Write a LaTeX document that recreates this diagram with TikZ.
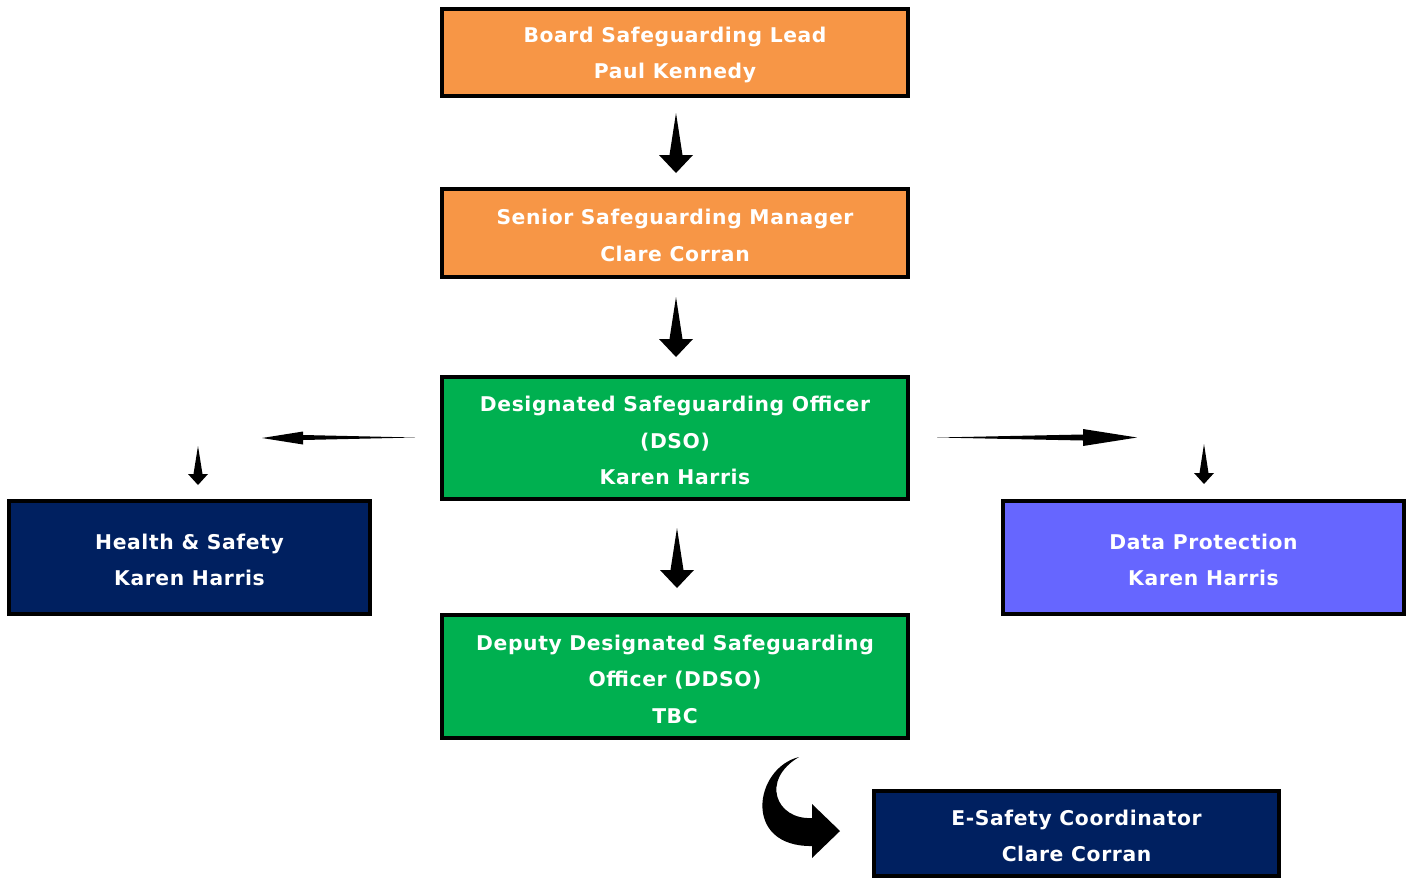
\documentclass[tikz,border=0pt]{standalone}
\usepackage{fontspec}
\setmainfont{DejaVu Sans}[LetterSpace=3]
\begin{document}
\begin{tikzpicture}[x=1pt,y=-1pt,
  box/.style={draw=black,line width=4pt,inner sep=0pt},
  lbl/.style={text=white,align=center,inner sep=0pt,
    font=\fontsize{20.3}{36.5}\selectfont\bfseries},
  arr/.style={fill=black,draw=none}]
\definecolor{orangeC}{HTML}{F79646}
\definecolor{greenC}{HTML}{00B050}
\definecolor{navyC}{HTML}{002060}
\definecolor{violetC}{HTML}{6666FF}
\useasboundingbox (0,0) rectangle (1413,879);
\newcommand{\dnarr}[6]{% x, top, headbase, tip, shaft half, head half
  \fill (#1,#2) -- (#1+#5,#3) -- (#1+#6,#3) -- (#1,#4) -- (#1-#6,#3) -- (#1-#5,#3) -- cycle;}
\node[box,fill=orangeC,minimum width=466pt,minimum height=87pt] (board) at (675,52.5) {};
\node[lbl] (boardt) at ([yshift=-2.5pt]board.center) {Board Safeguarding Lead\\Paul Kennedy};
\node[box,fill=orangeC,minimum width=466pt,minimum height=88pt] (senior) at (675,233) {};
\node[lbl] (seniort) at ([yshift=-2.5pt]senior.center) {Senior Safeguarding Manager\\Clare Corran};
\node[box,fill=greenC,minimum width=466pt,minimum height=122pt] (dso) at (675,438) {};
\node[lbl] (dsot) at ([yshift=-2.5pt]dso.center) {Designated Safeguarding Officer\\(DSO)\\Karen Harris};
\node[box,fill=greenC,minimum width=466pt,minimum height=123pt] (ddso) at (675,676.5) {};
\node[lbl] (ddsot) at ([yshift=-2.5pt]ddso.center) {Deputy Designated Safeguarding\\Officer (DDSO)\\TBC};
\node[box,fill=navyC,minimum width=361pt,minimum height=113pt] (hs) at (189.5,557.5) {};
\node[lbl] (hst) at ([yshift=-2.5pt]hs.center) {Health \& Safety\\Karen Harris};
\node[box,fill=violetC,minimum width=401pt,minimum height=113pt] (dp) at (1203.5,557.5) {};
\node[lbl] (dpt) at ([yshift=-2.5pt]dp.center) {Data Protection\\Karen Harris};
\node[box,fill=navyC,minimum width=405pt,minimum height=85pt] (es) at (1076.5,833.5) {};
\node[lbl] (est) at ([yshift=-2.5pt]es.center) {E-Safety Coordinator\\Clare Corran};
% big down arrows
\dnarr{676}{113}{155}{173}{6.5}{17}
\dnarr{676}{297}{339}{357}{6.5}{17}
\dnarr{677}{528}{570}{588}{6.5}{17}
% small down arrows
\dnarr{198}{446}{474}{485}{4.5}{10}
\dnarr{1204}{444}{473}{484}{4.5}{10}
% left arrow
\fill (415,437.5) -- (303,440) -- (303,444.5) -- (262,438) -- (303,431.5) -- (303,435) -- cycle;
% right arrow
\fill (937,437.5) -- (1083,434.5) -- (1083,429) -- (1137,437.5) -- (1083,446) -- (1083,440.5) -- cycle;
% curved arrow
\fill (799,757) .. controls (754,768) and (742,847) .. (812,846) -- (812,858) -- (840,831)
  -- (812,804) -- (812,818) .. controls (776,820) and (760,780) .. (799,757) -- cycle;
\end{tikzpicture}
\end{document}
